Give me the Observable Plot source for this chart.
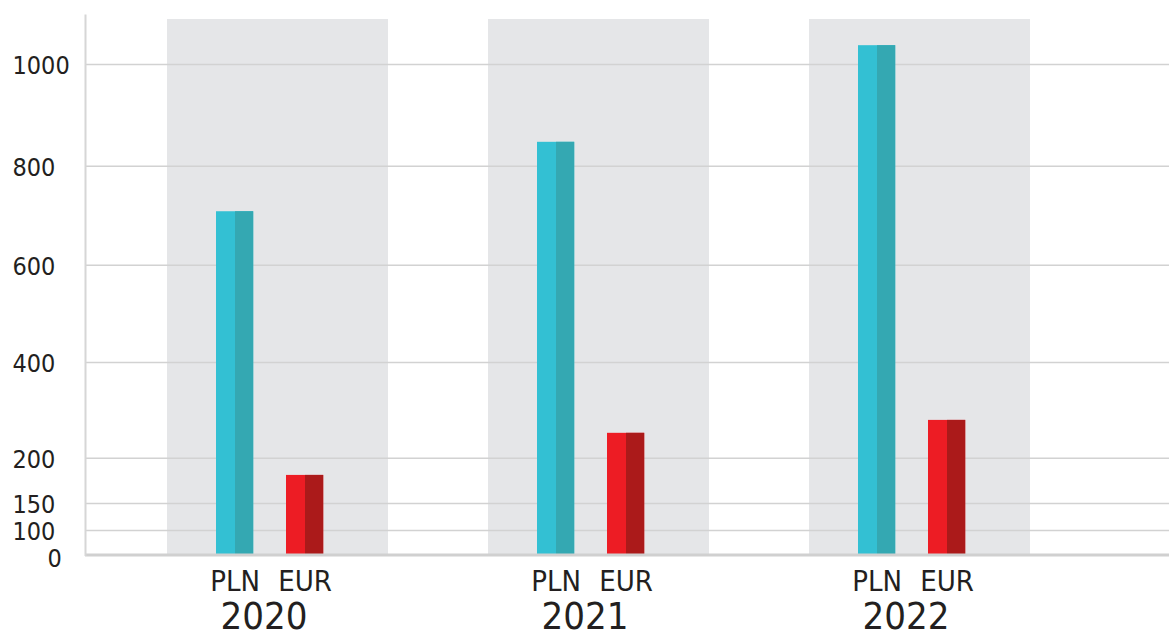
<!DOCTYPE html>
<html>
<head>
<meta charset="utf-8">
<script src="https://cdn.jsdelivr.net/npm/d3@7"></script>
<script src="https://cdn.jsdelivr.net/npm/@observablehq/plot@0.6"></script>
<style>
  html, body { margin: 0; padding: 0; background: #fff; }
  #chart svg { display: block; }
</style>
</head>
<body>
<div id="chart"></div>
<script>
// ---- data ----
const years = ["2020", "2021", "2022"];
const currencies = ["PLN", "EUR"];
const plnValues = [708, 847, 1037];
const eurValues = [181, 252, 279];
const yTicks = [0, 100, 150, 200, 400, 600, 800, 1000];

const rows = years.flatMap((y, i) => [
  {year: y, currency: "PLN", value: plnValues[i]},
  {year: y, currency: "EUR", value: eurValues[i]}
]);
const pln = rows.filter(d => d.currency === "PLN");
const eur = rows.filter(d => d.currency === "EUR");

const font = `"Liberation Sans Narrow", "DejaVu Sans Condensed", "Roboto Condensed", sans-serif`;
const textColor = "#231f20";
const BW = 221.8; // band width (px) used for bar insets

const chart = Plot.plot({
  width: 1169,
  height: 639,
  marginLeft: 85,
  marginRight: 0,
  marginTop: 15,
  marginBottom: 84.5,
  style: {background: "#fff", fontFamily: font, fontStretch: "condensed", overflow: "visible"},
  x: {type: "band", domain: years, paddingInner: 0.31, paddingOuter: 0.341, align: 0.37, axis: null},
  y: {
    type: "linear",
    domain: [0, 100, 150, 200, 400, 600, 800, 1000],
    range: [554.5, 530, 503, 457.7, 362, 264.7, 165.7, 64],
    axis: null
  },
  marks: [
    // grey panels behind each year
    Plot.cell(years, {x: d => d, fill: "#e5e6e8", insetTop: 4}),
    // gridlines
    Plot.ruleY(yTicks.filter(d => d > 0), {y: d => d, stroke: "#d2d2d2", strokeWidth: 1.6}),
    // bars: light left half + dark right half
    Plot.barY(pln, {x: "year", y: "value", fill: "#33c0d3", insetLeft: 49, insetRight: BW - 87}),
    Plot.barY(pln, {x: "year", y: "value", fill: "#34a8b2", insetLeft: 68, insetRight: BW - 87}),
    Plot.barY(eur, {x: "year", y: "value", fill: "#ed1c24", insetLeft: 119, insetRight: BW - 157}),
    Plot.barY(eur, {x: "year", y: "value", fill: "#ab1a1a", insetLeft: 138, insetRight: BW - 157}),
    // baseline
    Plot.ruleY([0], {stroke: "#d0d0d0", strokeWidth: 3}),
    // y axis line
    Plot.frame({anchor: "left", stroke: "#d6d6d6", strokeWidth: 2}),
    // y tick labels
    Plot.text(yTicks.filter(d => d > 0), {
      y: d => d, text: d => String(d), frameAnchor: "left", textAnchor: "start",
      dx: -73, dy: 1.5, fontSize: 25, fill: textColor
    }),
    Plot.text([0], {
      y: d => d, text: d => String(d), frameAnchor: "left", textAnchor: "start",
      dx: -38, dy: 3.5, fontSize: 25, fill: textColor
    }),
    // currency labels
    Plot.text(years, {x: d => d, text: () => currencies[0], frameAnchor: "bottom", dy: 36, dx: 68 - BW / 2, fontSize: 29, fill: textColor}),
    Plot.text(years, {x: d => d, text: () => currencies[1], frameAnchor: "bottom", dy: 36, dx: 138 - BW / 2, fontSize: 29, fill: textColor}),
    // year labels
    Plot.text(years, {x: d => d, text: d => d, frameAnchor: "bottom", dy: 74, dx: -14, fontSize: 38, fill: textColor})
  ]
});
document.getElementById("chart").appendChild(chart);
</script>
</body>
</html>
